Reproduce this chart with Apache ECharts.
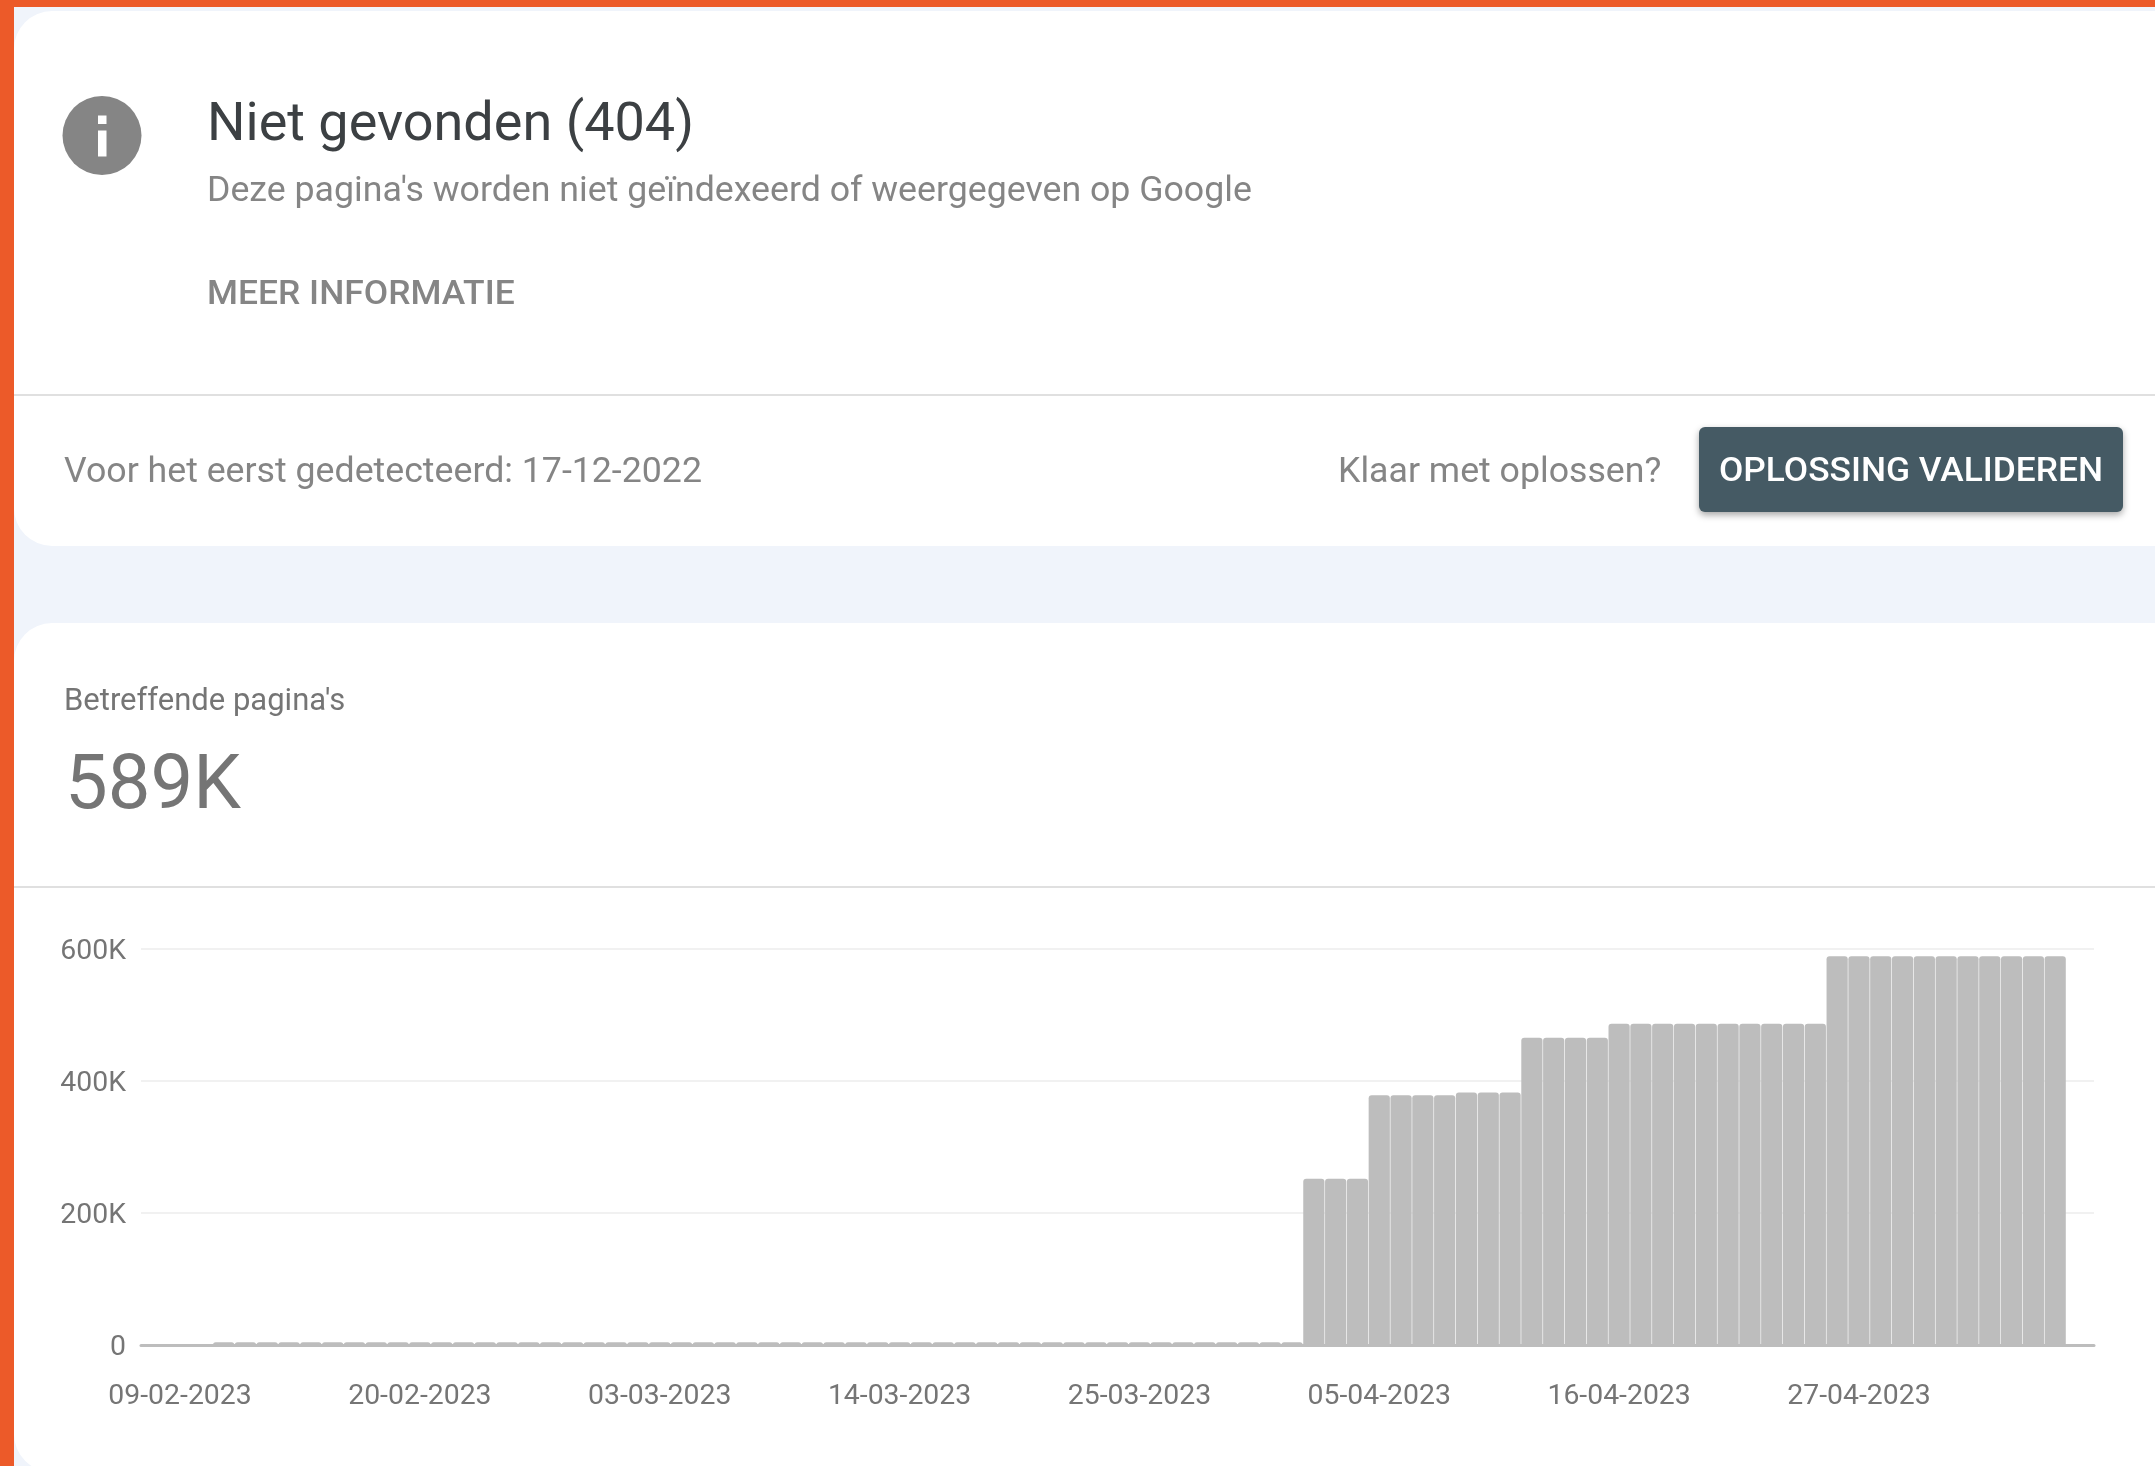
<!DOCTYPE html>
<html>
<head>
<meta charset="utf-8">
<title>Niet gevonden (404)</title>
<script src="https://cdn.jsdelivr.net/npm/echarts@6/dist/echarts.min.js"></script>
<style>
html, body { margin: 0; padding: 0; background: #f0f4fb; }
#chart { width: 2155px; height: 1466px; }
</style>
</head>
<body>
<div id="chart"></div>
<script>
const dates = [
    '09-02-2023','10-02-2023','11-02-2023','12-02-2023','13-02-2023','14-02-2023','15-02-2023','16-02-2023','17-02-2023','18-02-2023',
    '19-02-2023','20-02-2023','21-02-2023','22-02-2023','23-02-2023','24-02-2023','25-02-2023','26-02-2023','27-02-2023','28-02-2023',
    '01-03-2023','02-03-2023','03-03-2023','04-03-2023','05-03-2023','06-03-2023','07-03-2023','08-03-2023','09-03-2023','10-03-2023',
    '11-03-2023','12-03-2023','13-03-2023','14-03-2023','15-03-2023','16-03-2023','17-03-2023','18-03-2023','19-03-2023','20-03-2023',
    '21-03-2023','22-03-2023','23-03-2023','24-03-2023','25-03-2023','26-03-2023','27-03-2023','28-03-2023','29-03-2023','30-03-2023',
    '31-03-2023','01-04-2023','02-04-2023','03-04-2023','04-04-2023','05-04-2023','06-04-2023','07-04-2023','08-04-2023','09-04-2023',
    '10-04-2023','11-04-2023','12-04-2023','13-04-2023','14-04-2023','15-04-2023','16-04-2023','17-04-2023','18-04-2023','19-04-2023',
    '20-04-2023','21-04-2023','22-04-2023','23-04-2023','24-04-2023','25-04-2023','26-04-2023','27-04-2023','28-04-2023','29-04-2023',
    '30-04-2023','01-05-2023','02-05-2023','03-05-2023','04-05-2023','05-05-2023','06-05-2023'
];
const pages = [
    0, 0, 4000, 4000, 4000, 4000, 4000, 4000, 4000, 4000,
    4000, 4000, 4000, 4000, 4000, 4000, 4000, 4000, 4000, 4000,
    4000, 4000, 4000, 4000, 4000, 4000, 4000, 4000, 4000, 4000,
    4000, 4000, 4000, 4000, 4000, 4000, 4000, 4000, 4000, 4000,
    4000, 4000, 4000, 4000, 4000, 4000, 4000, 4000, 4000, 4000,
    4000, 4000, 252000, 252000, 252000, 378500, 378500, 378500, 378500, 382500,
    382500, 382500, 465500, 465500, 465500, 465500, 486700, 486700, 486700, 486700,
    486700, 486700, 486700, 486700, 486700, 486700, 589000, 589000, 589000, 589000,
    589000, 589000, 589000, 589000, 589000, 589000, 589000
];
const tickLabels = ['09-02-2023','20-02-2023','03-03-2023','14-03-2023','25-03-2023','05-04-2023','16-04-2023','27-04-2023'];

const FONT = 'Roboto';

// stretch stands in for the letter spacing of the uppercase button texts
function label(text, x, y, size, color, weight, stretch) {
    return {
        type: 'text', x: x, y: y, z: 5, scaleX: stretch || 1,
        style: {
            text: text, fill: color, fontFamily: FONT, fontSize: size,
            fontWeight: weight || 400, align: 'left', verticalAlign: 'middle'
        }
    };
}

function rect(x, y, w, h, fill, r, z) {
    return { type: 'rect', z: z, shape: { x: x, y: y, width: w, height: h, r: r || 0 }, style: { fill: fill } };
}

const chart = echarts.init(document.getElementById('chart'), null, { renderer: 'canvas' });

chart.setOption({
    animation: false,
    backgroundColor: '#f0f4fb',
    graphic: {
        elements: [
            rect(14, 11, 2200, 535, '#ffffff', 38, -10),
            rect(14, 623, 2200, 849, '#ffffff', 38, -10),
            rect(0, 0, 2155, 7, '#ec5a29', 0, 10),
            rect(0, 0, 14, 1466, '#ec5a29', 0, 10),
            rect(14, 394, 2141, 2, '#e0e0e0', 0, -5),
            rect(14, 886, 2141, 2, '#e0e0e0', 0, -5),
            { type: 'circle', z: 4, shape: { cx: 102, cy: 135.5, r: 39.5 }, style: { fill: '#858585' } },
            rect(98, 115.5, 8.5, 8.5, '#ffffff', 0, 5),
            rect(98, 130.5, 8.5, 26, '#ffffff', 0, 5),
            label('Niet gevonden (404)', 207, 126, 54, '#3c4043'),
            label("Deze pagina's worden niet geïndexeerd of weergegeven op Google", 207, 192, 35.7, '#858585'),
            label('MEER INFORMATIE', 207, 296, 32.5, '#858585', 500, 1.09),
            label('Voor het eerst gedetecteerd: 17-12-2022', 64, 473, 35.7, '#858585'),
            label('Klaar met oplossen?', 1338, 473, 35.7, '#858585'),
            {
                type: 'rect', z: 4,
                shape: { x: 1699, y: 427, width: 424, height: 85, r: 6 },
                style: { fill: '#455a64', shadowBlur: 7, shadowOffsetY: 3, shadowColor: 'rgba(0,0,0,0.35)' }
            },
            label('OPLOSSING VALIDEREN', 1719, 473, 33, '#ffffff', 500, 1.07),
            label("Betreffende pagina's", 64, 702, 31, '#757575'),
            label('589K', 65, 789, 76, '#757575')
        ]
    },
    grid: { left: 141, right: 61, top: 949, height: 396 },
    xAxis: {
        type: 'value',
        min: -1.79,
        max: dates.length - 1 + 1.78,
        axisLine: { lineStyle: { color: '#bdbdbd', width: 3 } },
        axisTick: { show: false },
        splitLine: { show: false },
        axisLabel: {
            customValues: tickLabels.map(t => dates.indexOf(t)),
            margin: 38,
            color: '#757575',
            fontFamily: FONT,
            fontSize: 28.4,
            formatter: v => dates[v]
        }
    },
    yAxis: {
        type: 'value',
        min: 0,
        max: 600000,
        interval: 200000,
        axisLine: { show: false },
        axisTick: { show: false },
        splitLine: { lineStyle: { color: '#f1f1f1', width: 2 } },
        axisLabel: {
            margin: 15,
            verticalAlign: 'top',
            lineHeight: 6,
            color: '#757575',
            fontFamily: FONT,
            fontSize: 28.4,
            formatter: v => (v === 0 ? '0' : v / 1000 + 'K')
        }
    },
    series: [{
        type: 'bar',
        barWidth: 21.2,
        itemStyle: { color: '#bdbdbd', borderRadius: [3, 3, 0, 0] },
        data: dates.map((d, i) => [i, pages[i] || null])
    }]
});
</script>
</body>
</html>
